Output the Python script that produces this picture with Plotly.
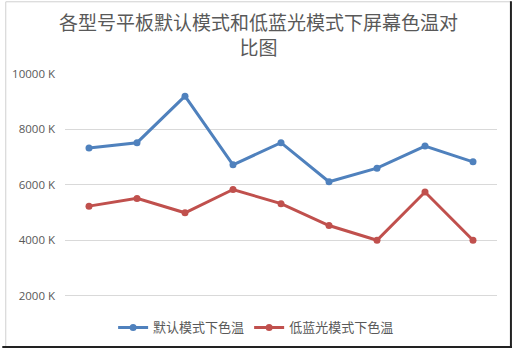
import plotly.graph_objects as go

categories = ["1", "2", "3", "4", "5", "6", "7", "8", "9"]
default_mode = [7330, 7520, 9200, 6720, 7520, 6110, 6600, 7400, 6830]
low_blue_mode = [5230, 5510, 4990, 5830, 5320, 4530, 4000, 5740, 4000]
tick_vals = [2000, 4000, 6000, 8000, 10000]
tick_text = ["2000 K", "4000 K", "6000 K", "8000 K", "10000 K"]
series_names = ["默认模式下色温", "低蓝光模式下色温"]
colors = ["#4F81BD", "#C0504D"]

W, H = 514, 354
ML, MR, MT, MB = 63, 17, 74, 53
PW, PH = W - ML - MR, H - MT - MB


def px_x(x):
    return (x - ML) / PW


def px_y(y):
    return (H - MB - y) / PH


fig = go.Figure()
for name, vals, c in zip(series_names, [default_mode, low_blue_mode], colors):
    fig.add_trace(go.Scatter(
        x=categories, y=vals, name=name, mode="lines+markers",
        line=dict(color=c, width=3),
        marker=dict(color=c, size=7),
    ))

grey = "#595959"
fig.update_layout(
    width=W, height=H,
    margin=dict(l=ML, r=MR, t=MT, b=MB),
    paper_bgcolor="white", plot_bgcolor="white",
    xaxis=dict(
        type="category", range=[-0.5, 8.5], showticklabels=False,
        showgrid=False, zeroline=False, showline=False, ticks="",
    ),
    yaxis=dict(
        range=[1950, 10000], tickmode="array", tickvals=tick_vals, ticktext=tick_text,
        showgrid=True, gridcolor="#D9D9D9", gridwidth=1,
        zeroline=False, showline=False, ticks="",
        ticklabelstandoff=9,
        tickfont=dict(family="Open Sans", size=11.5, color=grey),
    ),
    showlegend=True,
    legend=dict(
        orientation="h", x=px_x(255), xanchor="center",
        y=px_y(332), yanchor="middle",
        font=dict(family="Noto Sans CJK SC", size=13, color=grey),
        itemwidth=30, tracegroupgap=0,
    ),
    annotations=[
        dict(
            text="各型号平板默认模式和低蓝光模式下屏幕色温对<br>比图",
            xref="paper", yref="paper", x=px_x(257), y=px_y(5),
            xanchor="center", yanchor="top", showarrow=False, align="center",
            font=dict(family="Noto Sans CJK SC", size=19, color=grey),
        )
    ],
    shapes=[
        dict(type="line", xref="paper", yref="paper", x0=px_x(3.5), x1=px_x(3.5), y0=px_y(0.5), y1=px_y(352), line=dict(color="#D0D0D0", width=1)),
        dict(type="line", xref="paper", yref="paper", x0=px_x(3.5), x1=px_x(511), y0=px_y(0.5), y1=px_y(0.5), line=dict(color="#D0D0D0", width=1)),
        dict(type="line", xref="paper", yref="paper", x0=px_x(511), x1=px_x(511), y0=px_y(0), y1=px_y(353), line=dict(color="#222222", width=2)),
        dict(type="line", xref="paper", yref="paper", x0=px_x(0), x1=px_x(512), y0=px_y(352), y1=px_y(352), line=dict(color="#222222", width=2)),
    ],
)

fig.write_html("out.html")
